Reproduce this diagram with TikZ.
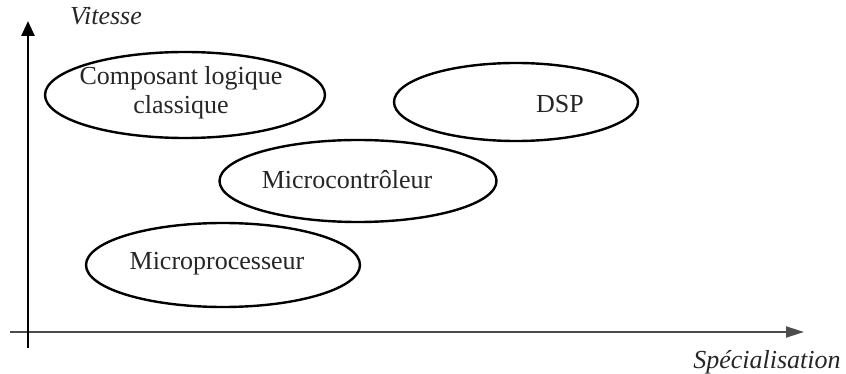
\documentclass[tikz,border=0pt]{standalone}
\usepackage{fontspec}
\setmainfont{Liberation Serif}
\usetikzlibrary{shapes.geometric,arrows.meta}
\begin{document}
\begin{tikzpicture}[x=1pt,y=-1pt,
  blob/.style={draw=black,line width=2.4pt,ellipse,inner sep=0pt},
  lbl/.style={font=\fontsize{26}{29}\selectfont,text=black!85,align=center,inner sep=0pt},
  axlbl/.style={font=\fontsize{26}{29}\selectfont\itshape,text=black!85,inner sep=0pt}]
\useasboundingbox (0,0) rectangle (846,374);
% axes
\coordinate (yb) at (28,348);
\coordinate (yt) at (28,21);
\coordinate (xl) at (10,332);
\coordinate (xr) at (804,332);
\draw[line width=1.8pt,black!70,-{Triangle[length=18pt,width=11pt]}] (xl) -- (xr);
\draw[line width=2.6pt,-{Triangle[length=15pt,width=13pt]}] (yb) -- (yt);
\node[axlbl] (vit) at (106,16) {Vitesse};
\node[axlbl] (spe) at (767,362) {Spécialisation};
% ellipses
\node[blob,minimum width=280pt,minimum height=86pt] (e1) at (185,95) {};
\node[blob,minimum width=244pt,minimum height=78pt] (e2) at (516,102) {};
\node[blob,minimum width=277pt,minimum height=82pt] (e3) at (358,181) {};
\node[blob,minimum width=274pt,minimum height=84pt] (e4) at (223,265) {};
% texts
\node[lbl] (t1) at (181,93) {Composant logique\\classique};
\node[lbl] (t2) at (560,104) {DSP};
\node[lbl] (t3) at (347,180) {Microcontrôleur};
\node[lbl] (t4) at (217,264) {Microprocesseur};
\end{tikzpicture}
\end{document}
